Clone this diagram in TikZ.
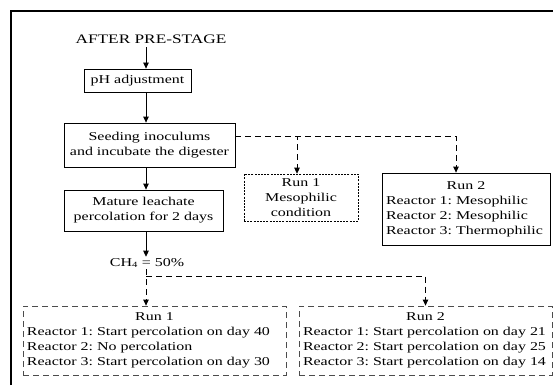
\documentclass[tikz,border=0pt]{standalone}
\usepackage{fontspec}
\setmainfont[FakeStretch=1.33]{Liberation Serif}
\usetikzlibrary{arrows.meta,positioning}
\frenchspacing
\hyphenpenalty=10000
\newcommand{\runhead}[1]{\makebox[\hsize]{#1}}

\begin{document}
\begin{tikzpicture}[x=1pt,y=-1pt,line width=0.8pt,
    txt/.style={font=\fontsize{12}{15}\selectfont},
    box/.style={draw,txt,inner ysep=0pt,align=center},
    arr/.style={-{Triangle[width=5.5pt,length=6pt]}},
    dline/.style={dash pattern=on 6pt off 4pt},
    dotbox/.style={box,dash pattern=on 2pt off 1.2pt,line width=0.6pt},
    runbox/.style={box,dline,draw=black!70,align=left},
  ]
    \useasboundingbox (0,0) rectangle (553,385);

    % Frame
    \draw[line width=2pt] (11,385) -- (11,11) -- (553,11);

    % Main steps
    \coordinate (axis) at (146,0);
    \node[font=\fontsize{13}{15}\selectfont] (head) at (151,39) {AFTER PRE-STAGE};
    \node[box,minimum width=107pt,minimum height=23pt] (ph) at (137.5,80.5) {pH adjustment};
    \node[box,minimum width=171pt,minimum height=44pt] (seed) at (149.5,145) {Seeding inoculums\\and incubate the digester};
    \node[box,minimum width=159pt,minimum height=41pt] (mat) at (143.5,210.5) {Mature leachate\\percolation for 2 days};
    \node[txt,inner sep=1pt] (ch) at (147,263) {CH\textsubscript{4} = 50\%};

    \draw[arr] (head.south -| axis) -- (ph.north -| axis);
    \draw[arr] (ph.south -| axis) -- (seed.north -| axis);
    \draw[arr] (seed.south -| axis) -- (mat.north -| axis);
    \draw[arr] (mat.south -| axis) -- (ch.north -| axis);

    % Temperature runs
    \node[dotbox,minimum width=114pt,minimum height=47pt] (temprunone) at (301,197.5) {Run 1\\Mesophilic\\condition};
    \node[box,align=left,text width=160pt,inner xsep=4pt,minimum height=72pt] (tempruntwo) at (466,209)
        {\runhead{Run 2}\\Reactor 1: Mesophilic\\Reactor 2: Mesophilic\\Reactor 3: Thermophilic};

    \coordinate (split) at ([yshift=9pt]seed.east);
    \draw[dline,arr] (split) -| ([xshift=-4pt]temprunone.north);
    \draw[dline,arr] (split) -| ([xshift=-10pt]tempruntwo.north);

    % Percolation runs
    \node[runbox,text width=255pt,inner xsep=4pt,minimum height=69pt] (percrunone) at (154.5,340.5)
        {\runhead{Run 1}\\Reactor 1: Start percolation on day 40\\Reactor 2: No percolation\\Reactor 3: Start percolation on day 30};
    \node[runbox,text width=245pt,inner xsep=4pt,minimum height=69pt] (percruntwo) at (425.5,340.5)
        {\runhead{Run 2}\\Reactor 1: Start percolation on day 21\\Reactor 2: Start percolation on day 25\\Reactor 3: Start percolation on day 14};

    \coordinate (fork) at (146,276);
    \draw[dline,arr] (ch.south -| axis) -- (percrunone.north -| axis);
    \draw[dline,arr] (fork) -| (percruntwo.north);
\end{tikzpicture}
\end{document}
